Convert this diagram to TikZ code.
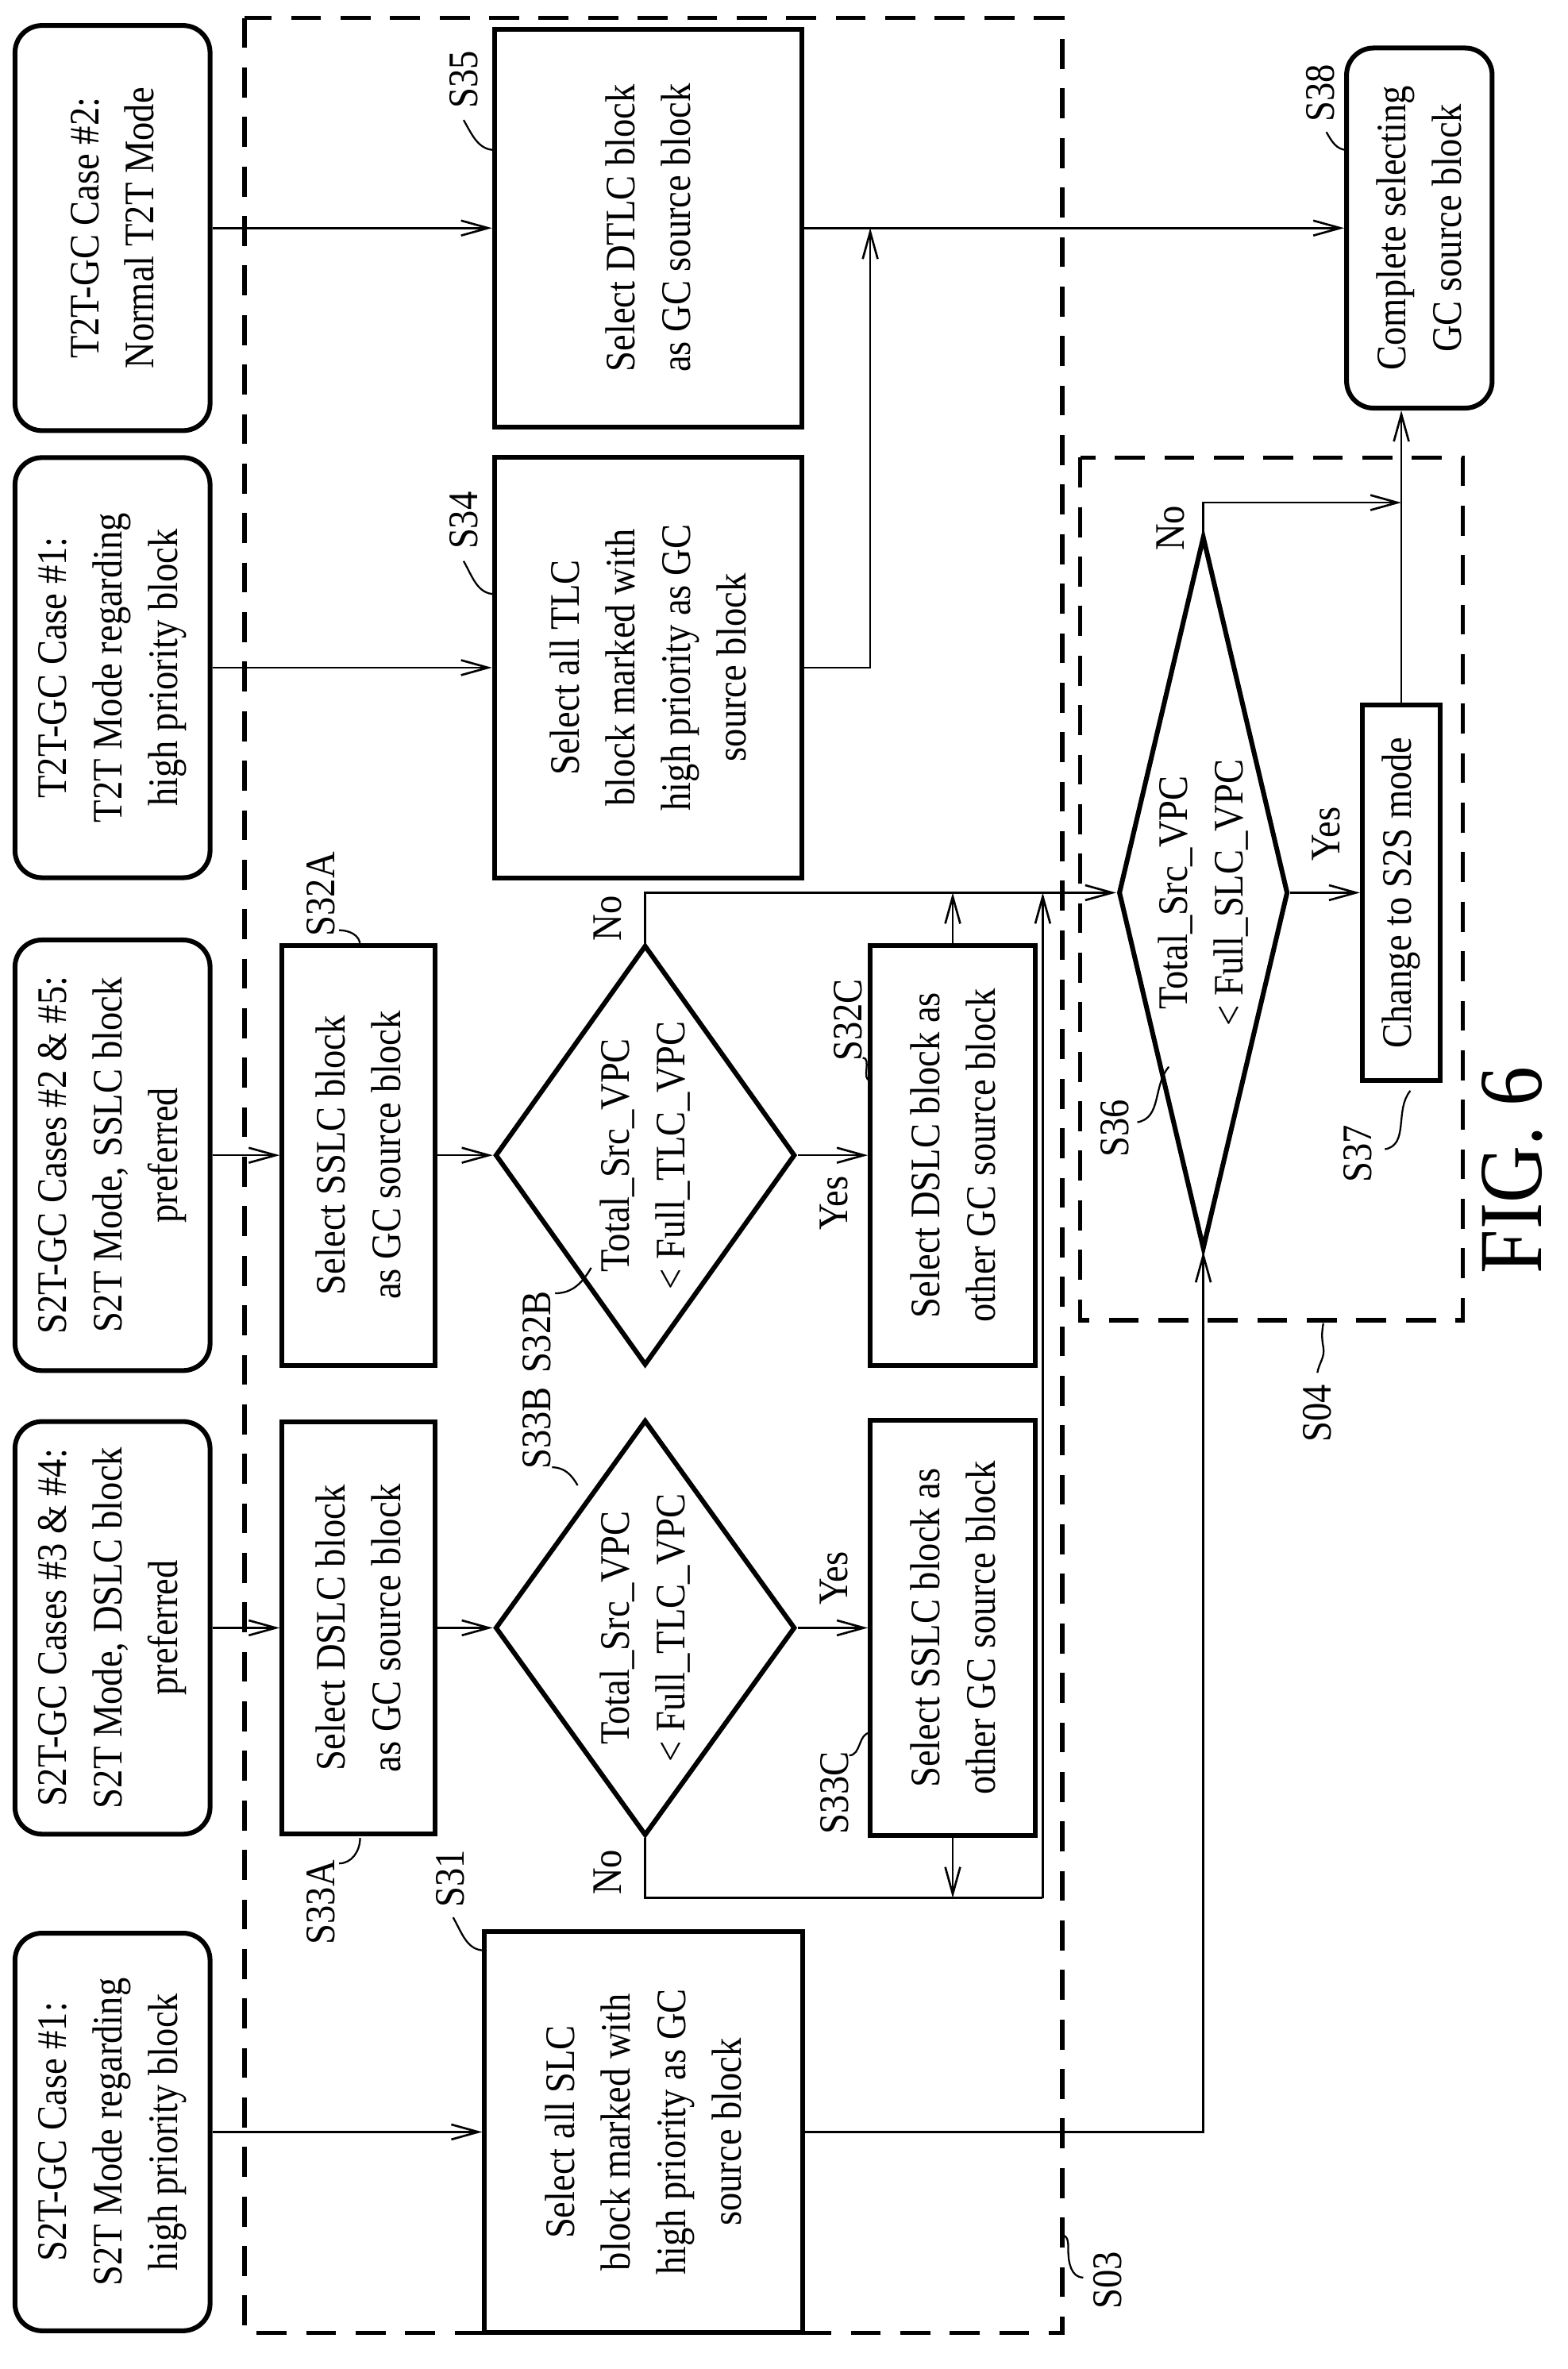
\documentclass[tikz,border=0pt]{standalone}
\usepackage{fontspec}
\setmainfont[FakeStretch=0.88]{Liberation Serif}
\usetikzlibrary{shapes.geometric,arrows.meta}
\begin{document}
\begin{tikzpicture}[x=1pt,y=-1pt,
  every node/.style={font=\fontsize{28}{37}\selectfont},
  box/.style={draw,line width=3.2pt,rotate=90,align=center,inner sep=0pt},
  term/.style={box,rounded corners=18pt},
  dia/.style={draw,diamond,line width=3.2pt,rotate=90,inner sep=0pt},
  txt/.style={rotate=90,align=center,inner sep=0pt},
  lab/.style={rotate=90,inner sep=0pt},
  conn/.style={line width=1.4pt},
  arr/.style={conn,-{Straight Barb[length=18pt,width=10pt,line width=1.4pt]}},
  dbox/.style={line width=2.8pt,dash pattern=on 20pt off 13pt},
  lead/.style={line width=1.2pt}]
\useasboundingbox (0,0) rectangle (1045,1579);
% dashed groups
\draw[dbox] (163,12) rectangle (708,1555);
\draw[dbox] (720,305) rectangle (975,880);
% start terminators
\node[term,minimum width=265,minimum height=130] (c1) at (75,1421) {S2T-GC Case \#1:\\S2T Mode regarding\\high priority block};
\node[term,minimum width=275,minimum height=130] (c34) at (75,1085) {S2T-GC Cases \#3 \& \#4:\\S2T Mode, DSLC block\\preferred};
\node[term,minimum width=287,minimum height=130] (c25) at (75,770) {S2T-GC Cases \#2 \& \#5:\\S2T Mode, SSLC block\\preferred};
\node[term,minimum width=280,minimum height=130] (t1) at (75,445) {T2T-GC Case \#1:\\T2T Mode regarding\\high priority block};
\node[term,minimum width=270,minimum height=130] (t2) at (75,152) {T2T-GC Case \#2:\\Normal T2T Mode};
% process boxes
\node[box,minimum width=267,minimum height=212] (s31) at (429,1421) {Select all SLC\\block marked with\\high priority as GC\\source block};
\node[box,minimum width=275,minimum height=102] (s33a) at (239,1085) {Select DSLC block\\as GC source block};
\node[dia,minimum width=277,minimum height=200] (d33b) at (430,1085) {};
\node[txt] (t33b) at (430,1085) {Total\_Src\_VPC\\< Full\_TLC\_VPC};
\node[box,minimum width=277,minimum height=110] (s33c) at (635,1085) {Select SSLC block as\\other GC source block};
\node[box,minimum width=280,minimum height=102] (s32a) at (239,770) {Select SSLC block\\as GC source block};
\node[dia,minimum width=280,minimum height=200] (d32b) at (430,770) {};
\node[txt] (t32b) at (430,770) {Total\_Src\_VPC\\< Full\_TLC\_VPC};
\node[box,minimum width=280,minimum height=110] (s32c) at (635,770) {Select DSLC block as\\other GC source block};
\node[box,minimum width=280,minimum height=205] (s34) at (432,445) {Select all TLC\\block marked with\\high priority as GC\\source block};
\node[box,minimum width=265,minimum height=205] (s35) at (432,152) {Select DTLC block\\as GC source block};
\node[term,minimum width=240,minimum height=97] (s38) at (946,152) {Complete selecting\\GC source block};
\node[dia,minimum width=475,minimum height=113] (d36) at (802,595) {};
\node[txt] (t36) at (802,595) {Total\_Src\_VPC\\< Full\_SLC\_VPC};
\node[box,minimum width=250,minimum height=52] (s37) at (934,595) {Change to S2S mode};
% coordinates
\coordinate (j1) at (695,1265);
\coordinate (j2) at (580,152);
\coordinate (j3) at (934,335);
% connectors
\draw[arr] (c1.south) -- (s31.north);
\draw[arr] (c34.south) -- (s33a.north);
\draw[arr] (s33a.south) -- (d33b.north);
\draw[arr] (d33b.south) -- (s33c.north);
\draw[arr] (c25.south) -- (s32a.north);
\draw[arr] (s32a.south) -- (d32b.north);
\draw[arr] (d32b.south) -- (s32c.north);
\draw[arr] (t1.south) -- (s34.north);
\draw[arr] (t2.south) -- (s35.north);
\draw[arr] (s35.south) -- (s38.north);
\draw[arr] (s34.south) -| (j2);
\draw[arr] (d32b.east) |- (d36.north);
\draw[conn] (d33b.west) |- (j1);
\draw[arr] (j1) -- (j1 |- d36.north);
\draw[arr] (s33c.west) -- (s33c.west |- j1);
\draw[arr] (s32c.east) -- (s32c.east |- d36.north);
\draw[arr] (s31.south) -| (d36.west);
\draw[arr] (d36.south) -- (s37.north);
\draw[arr] (s37.east) -- (s37.east |- s38.west);
\draw[arr] (d36.east) |- (j3);
% yes / no
\node[lab] (y33) at (556,1052) {Yes};
\node[lab] (n33) at (405,1248) {No};
\node[lab] (y32) at (556,802) {Yes};
\node[lab] (n32) at (405,612) {No};
\node[lab] (y36) at (884,556) {Yes};
\node[lab] (n36) at (780,352) {No};
% step labels
\node[lab] (l35) at (309,53) {S35};
\draw[lead] (309,80) to[out=-60,in=180] (330,100);
\node[lab] (l34) at (309,347) {S34};
\draw[lead] (309,374) to[out=-60,in=180] (330,396);
\node[lab] (l31) at (300,1252) {S31};
\draw[lead] (302,1278) to[out=-60,in=180] (323,1300);
\node[lab] (l32a) at (214,596) {S32A};
\draw[lead] (226,620) to[out=0,in=90] (240,630);
\node[lab] (l33a) at (214,1268) {S33A};
\draw[lead] (226,1242) to[out=0,in=-90] (240,1225);
\node[lab] (l33b) at (358,952) {S33B};
\draw[lead] (368,978) to[out=0,in=120] (385,990);
\node[lab] (l32b) at (358,888) {S32B};
\draw[lead] (370,862) to[out=0,in=-120] (394,845);
\node[lab] (l32c) at (565,680) {S32C};
\draw[lead] (575,705) to[out=0,in=180] (580,720);
\node[lab] (l33c) at (556,1195) {S33C};
\draw[lead] (566,1170) to[out=0,in=180] (580,1155);
\node[lab] (l36) at (743,752) {S36};
\draw[lead] (758,748) to[out=10,in=-130] (779,711);
\node[lab] (l37) at (905,769) {S37};
\draw[lead] (923,766) to[out=10,in=-130] (940,727);
\node[lab] (l38) at (880,62) {S38};
\draw[lead] (884,88) to[out=-60,in=180] (898,100);
\node[lab] (l04) at (878,942) {S04};
\draw[lead] (878,915) to[out=80,in=-80] (882,898) to[out=100,in=-100] (882,882);
\node[lab] (l03) at (738,1520) {S03};
\draw[lead] (722,1518) to[out=180,in=-90] (712,1500) to[out=90,in=0] (708,1490);
\node[lab,font=\fontsize{60}{68}\selectfont] (fig) at (1008,780) {FIG. 6};
\end{tikzpicture}
\end{document}
